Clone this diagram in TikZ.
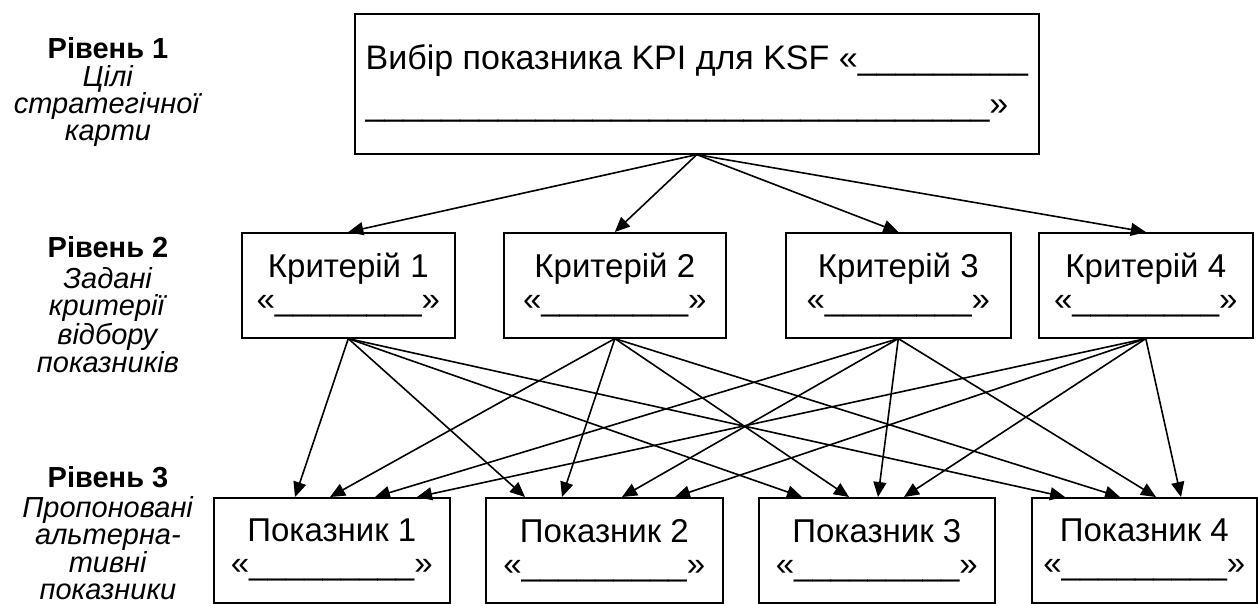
\documentclass[tikz,border=0pt]{standalone}
\usepackage{fontspec}
\setmainfont{Liberation Sans}
\usetikzlibrary{arrows.meta,calc}

\begin{document}
\begin{tikzpicture}[->,>={Triangle[length=15pt,width=13pt]},x=1pt,y=-1pt,
                    line width=1.6pt]
  \tikzstyle{box}=[draw=black,inner sep=0pt,anchor=north west,align=center,
                   font=\fontsize{33}{33}\selectfont]
  \tikzstyle{lvl}=[inner sep=0pt,anchor=north,align=center,
                   font=\fontsize{29}{27}\selectfont]

  \useasboundingbox (0,0) rectangle (1258,603);

  % left column
  \node[lvl] (L1) at (108,37)  {\textbf{Рівень 1}\\[1pt]\textit{Цілі}\\\textit{стратегічної}\\\textit{карти}};
  \node[lvl] (L2) at (108,236) {\textbf{Рівень 2}\\[4pt]\textit{Задані}\\\textit{критерії}\\\textit{відбору}\\\textit{показників}};
  \node[lvl] (L3) at (108,466) {\textbf{Рівень 3}\\[3pt]\textit{Пропоновані}\\\textit{альтерна-}\\\textit{тивні}\\\textit{показники}};

  % level 1
  \node[box,align=left,minimum width=684,minimum height=140,
        font=\fontsize{34}{46}\selectfont] (KSF) at (354,13)
        {Вибір показника KPI для KSF «\_\_\_\_\_\_\_\_\_\\
         \_\_\_\_\_\_\_\_\_\_\_\_\_\_\_\_\_\_\_\_\_\_\_\_\_\_\_\_\_\_\_\_\_»};

  % level 2
  \node[box,minimum width=213,minimum height=105] (K1) at (241,232)  {Критерій 1\\«\_\_\_\_\_\_\_\_»};
  \node[box,minimum width=222,minimum height=105] (K2) at (503,232)  {Критерій 2\\«\_\_\_\_\_\_\_\_»};
  \node[box,minimum width=225,minimum height=105] (K3) at (785,232)  {Критерій 3\\«\_\_\_\_\_\_\_\_»};
  \node[box,minimum width=214,minimum height=105] (K4) at (1038,232) {Критерій 4\\«\_\_\_\_\_\_\_\_»};

  % level 3
  \node[box,minimum width=236,minimum height=105] (P1) at (213,497)  {Показник 1\\«\_\_\_\_\_\_\_\_\_»};
  \node[box,minimum width=237,minimum height=105] (P2) at (485,497)  {Показник 2\\«\_\_\_\_\_\_\_\_\_»};
  \node[box,minimum width=236,minimum height=105] (P3) at (758,497)  {Показник 3\\«\_\_\_\_\_\_\_\_\_»};
  \node[box,minimum width=225,minimum height=105] (P4) at (1031,497) {Показник 4\\«\_\_\_\_\_\_\_\_\_»};

  \path (KSF.south) edge (K1.north)
                    edge (K2.north)
                    edge (K3.north)
                    edge (K4.north);

  \path (K1.south) edge ($(P1.north west)+(82,0)$)
                   edge ($(P2.north west)+(40,0)$)
                   edge ($(P3.north west)+(44,0)$)
                   edge ($(P4.north west)+(34,0)$)
        (K2.south) edge ($(P1.north west)+(117,0)$)
                   edge ($(P2.north west)+(77,0)$)
                   edge ($(P3.north west)+(91,0)$)
                   edge ($(P4.north west)+(89,0)$)
        (K3.south) edge ($(P1.north west)+(162,0)$)
                   edge ($(P2.north west)+(137,0)$)
                   edge ($(P3.north west)+(120,0)$)
                   edge ($(P4.north west)+(125,0)$)
        (K4.south) edge ($(P1.north west)+(204,0)$)
                   edge ($(P2.north west)+(190,0)$)
                   edge ($(P3.north west)+(146,0)$)
                   edge ($(P4.north west)+(150,0)$);
\end{tikzpicture}
\end{document}
